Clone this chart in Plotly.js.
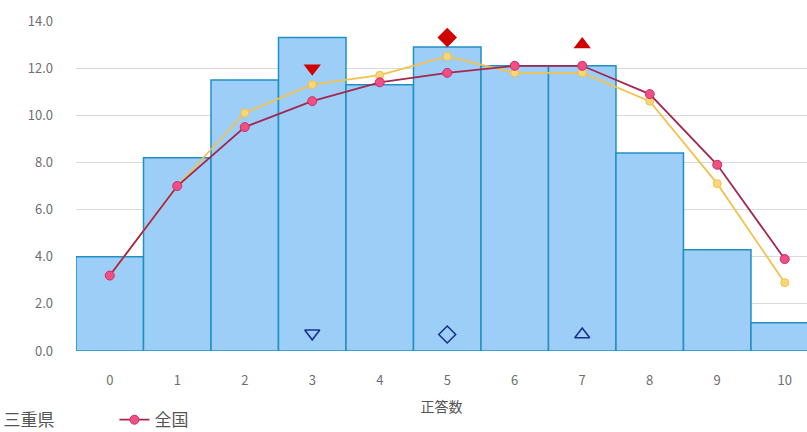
<!DOCTYPE html>
<html>
<head>
<meta charset="utf-8">
<script src="https://cdn.plot.ly/plotly-3.0.1.min.js"></script>
<style>html,body{margin:0;padding:0;background:#fff;}#chart{width:807px;height:432px;}</style>
</head>
<body>
<div id="chart"></div>
<script>
const categories = [0,1,2,3,4,5,6,7,8,9,10];
const mieValues = [4.0, 8.2, 11.5, 13.3, 11.3, 12.9, 12.1, 12.1, 8.4, 4.3, 1.2];
const nationalValues = [3.2, 7.0, 9.5, 10.6, 11.4, 11.8, 12.1, 12.1, 10.9, 7.9, 3.9];
const yellowValues = [3.2, 7.0, 10.1, 11.3, 11.7, 12.5, 11.8, 11.8, 10.6, 7.1, 2.9];
const redMarkX = [3, 5, 7];
const redMarkY = [12.0, 13.3, 13.0];
const blueMarkX = [3, 5, 7];
const blueMarkY = [0.75, 0.7, 0.7];
const redSymbols = ['triangle-down', 'diamond', 'triangle-up'];
const blueSymbols = ['triangle-down-open', 'diamond-open', 'triangle-up-open'];
const yTicks = [0,2,4,6,8,10,12,14];
const yTickText = yTicks.map(v => v.toFixed(1));

const font = '"Noto Sans CJK JP", "Noto Sans", sans-serif';

const traces = [
  {
    type: 'bar', name: '三重県', x: categories, y: mieValues, width: 1,
    marker: {color: '#9DCEF8', line: {color: '#2090C2', width: 1.5}},
    hoverinfo: 'y'
  },
  {
    type: 'scatter', mode: 'lines+markers', name: '三重県(線)', x: categories, y: yellowValues,
    line: {color: '#F2C14E', width: 1.8},
    marker: {color: '#F7D77A', size: 8, line: {color: '#F5C04A', width: 1}},
    showlegend: false
  },
  {
    type: 'scatter', mode: 'lines+markers', name: '全国', x: categories, y: nationalValues,
    line: {color: '#A3284E', width: 1.8},
    marker: {color: '#EE4F86', size: 9, line: {color: '#D02C63', width: 1}}
  },
  {
    type: 'scatter', mode: 'markers', name: '全国指標', x: redMarkX, y: redMarkY,
    marker: {color: '#D00000', size: 15, symbol: redSymbols},
    showlegend: false
  },
  {
    type: 'scatter', mode: 'markers', name: '三重県指標', x: blueMarkX, y: blueMarkY,
    marker: {color: '#1C2F8F', size: 13, symbol: blueSymbols, line: {width: 1.6}},
    showlegend: false
  }
];

const layout = {
  width: 807, height: 432,
  margin: {l: 76, r: 0, t: 21, b: 81, autoexpand: false},
  paper_bgcolor: '#ffffff', plot_bgcolor: '#ffffff',
  font: {family: font, color: '#6f6f6f', size: 13},
  showlegend: true,
  bargap: 0,
  xaxis: {
    range: [-0.5, 10.33],
    tickmode: 'array', tickvals: categories, ticktext: categories.map(String),
    showgrid: false, zeroline: false, showline: false,
    ticks: '', ticklabelstandoff: 20,
    tickfont: {family: font, size: 13, color: '#6f6f6f'},
    title: {text: '正答数', font: {family: font, size: 14, color: '#555555'}, standoff: 14}
  },
  yaxis: {
    range: [0, 14],
    tickmode: 'array', tickvals: yTicks, ticktext: yTickText,
    showgrid: true, gridcolor: '#d9d9d9', gridwidth: 1,
    zeroline: false, showline: false, ticks: '', ticklabelstandoff: 22,
    tickfont: {family: font, size: 13, color: '#6f6f6f'}
  },
  legend: {
    orientation: 'h', x: -0.154, xanchor: 'left', y: -0.155, yanchor: 'top',
    font: {family: font, size: 17, color: '#555555'},
    entrywidth: 106, entrywidthmode: 'pixels',
    bgcolor: 'rgba(0,0,0,0)'
  }
};

Plotly.newPlot('chart', traces, layout, {displayModeBar: false, staticPlot: true});
</script>
</body>
</html>
